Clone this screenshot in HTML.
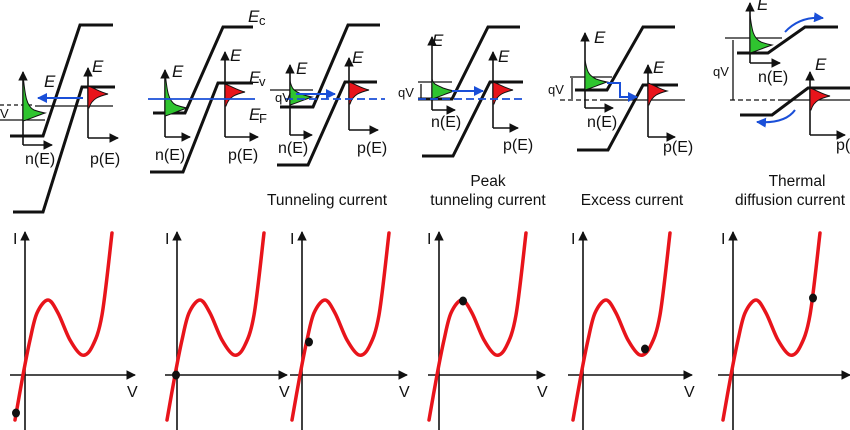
<!DOCTYPE html>
<html><head><meta charset="utf-8"><style>
body{margin:0;background:#fff}
svg{display:block}
text{font-family:"Liberation Sans",sans-serif;fill:#111}
.e{font-style:italic;font-size:17px}
.lab{font-size:16px}
.cap{font-size:15.5px}
.sm{font-size:13px}
.b{stroke:#111;stroke-width:3;fill:none}
.t{stroke:#111;stroke-width:1.3;fill:none}
.ax{stroke:#111;stroke-width:1.6;fill:none}
</style></head><body>
<svg id="fig" width="850" height="430" viewBox="0 0 850 430">
<defs>
<marker id="ah" viewBox="0 0 10 10" refX="9" refY="5" markerWidth="6" markerHeight="6" orient="auto"><path d="M0,0L10,5L0,10z" fill="#111"/></marker>
<marker id="bh" viewBox="0 0 10 10" refX="9" refY="5" markerWidth="5" markerHeight="5" orient="auto"><path d="M0,0L10,5L0,10z" fill="#1a4fd8"/></marker>
</defs>
<g id="bands"></g>
<g id="ivs"></g>
<g>
<text class="cap" x="327" y="205" text-anchor="middle">Tunneling current</text>
<text class="cap" x="488" y="186" text-anchor="middle">Peak</text>
<text class="cap" x="488" y="205" text-anchor="middle">tunneling current</text>
<text class="cap" x="632" y="205" text-anchor="middle">Excess current</text>
<text class="cap" x="797" y="186" text-anchor="middle">Thermal</text>
<text class="cap" x="790" y="205" text-anchor="middle">diffusion current</text>
</g>
</svg>
<script>
// I-V curve data (V offset from I axis in px units, I in px units upward)
const curveV = [-10, -2, 5, 12, 23, 33, 45, 57, 67, 77, 87];
const curveI = [-45, 0, 35, 62, 75, 62, 35, 20, 28, 60, 142];
const panelNames = ['reverse-bias','zero-bias','tunneling','peak','excess','thermal'];
const markerV = [-9, -1, 7, 24, 62, 80];
const markerI = [-38, 0, 33, 74, 26, 77];
const axisX = [25, 177, 302, 439, 583, 733];
const axisEnd = [135, 287, 407, 545, 692, 850];
const axisStart = [10, 165, 290, 428, 568, 718];
const showV = [true, true, true, true, true, false];

const NS='http://www.w3.org/2000/svg';
function mk(tag, attrs, parent){const e=document.createElementNS(NS,tag);for(const k in attrs)e.setAttribute(k,attrs[k]);parent.appendChild(e);return e;}
const OY=375;
function sx(p,v){return axisX[p]+v;}
function sy(i){return OY-i;}
function curvePath(p){
  const pts=curveV.map((v,i)=>[sx(p,v),sy(curveI[i])]);
  let d='M'+pts[0][0]+','+pts[0][1];
  for(let i=0;i<pts.length-1;i++){
    const p0=pts[Math.max(0,i-1)],p1=pts[i],p2=pts[i+1],p3=pts[Math.min(pts.length-1,i+2)];
    const c1=[p1[0]+(p2[0]-p0[0])/6,p1[1]+(p2[1]-p0[1])/6];
    const c2=[p2[0]-(p3[0]-p1[0])/6,p2[1]-(p3[1]-p1[1])/6];
    d+=` C${c1[0]},${c1[1]} ${c2[0]},${c2[1]} ${p2[0]},${p2[1]}`;
  }
  return d;
}
const ivs=document.getElementById('ivs');
for(let p=0;p<6;p++){
  const g=mk('g',{},ivs);
  
  
  const ya=mk('line',{x1:axisX[p],y1:430,x2:axisX[p],y2:232,class:'ax','marker-end':'url(#ah)'},g);
  
  
  const xa=mk('line',{x1:axisStart[p],y1:OY,x2:axisEnd[p],y2:OY,class:'ax','marker-end':'url(#ah)'},g);
  
  
  const it=mk('text',{x:axisX[p]-12,y:244,class:'lab'},g); it.textContent='I';
  
  
  if(showV[p]){const vt=mk('text',{x:axisEnd[p]-8,y:397,class:'lab'},g); vt.textContent='V';
  
  }
  const c=mk('path',{d:curvePath(p),stroke:'#e8141b','stroke-width':3.5,fill:'none','stroke-linecap':'round'},g);
  
  
  const m=mk('ellipse',{cx:sx(p,markerV[p]),cy:sy(markerI[p]),rx:4,ry:4.5,fill:'#111'},g);
  
  
}

// band diagrams (static schematic)
const bands=document.getElementById('bands');
function pl(pts,cls,g,extra){return mk('polyline',Object.assign({points:pts,class:cls},extra||{}),g);}
function axes(x,yt,yb,xr,g){mk('line',{x1:x,y1:yb,x2:x,y2:yt,class:'ax','marker-end':'url(#ah)'},g);mk('line',{x1:x,y1:yb,x2:xr,y2:yb,class:'ax','marker-end':'url(#ah)'},g);}
function distG(x,y,len,tail,g){
  mk('path',{d:`M${x},${y-tail} C${x+2},${y-tail*0.5} ${x+3},${y-7} ${x+len*0.5},${y-3} C${x+len*0.75},${y-1} ${x+len},${y} ${x+len},${y} C${x+len*0.6},${y+3} ${x+len*0.3},${y+6} ${x},${y+8} Z`,fill:'#2fc42f',stroke:'#111','stroke-width':1},g);
}
function distR(x,y,len,g){
  mk('path',{d:`M${x},${y-8} C${x+6},${y-6} ${x+len*0.6},${y-2} ${x+len},${y} C${x+len*0.6},${y+2} ${x+4},${y+4} ${x+1},${y+14} L${x},${y+14} Z`,fill:'#e8141b',stroke:'#111','stroke-width':1},g);
}
function txt(s,x,y,cls,g){const t=mk('text',{x:x,y:y,class:cls},g);t.textContent=s;return t;}
function blue(pts,g,dash){return pl(pts,'',g,{stroke:'#1a4fd8','stroke-width':1.8,fill:'none','stroke-dasharray':dash||'none'});}
function bluearrow(pts,g){return pl(pts,'',g,{stroke:'#1a4fd8','stroke-width':2,fill:'none','marker-end':'url(#bh)'});}
const G=[];
for(let i=0;i<6;i++){const g=mk('g',{},bands);G.push(g);}
// panel 1
let g=G[0];
pl('10,136 43,136 80,25 113,25','b',g);
pl('13,212 43,212 82,87 115,87','b',g);
mk('line',{x1:0,y1:120,x2:45,y2:120,class:'t'},g);
mk('line',{x1:0,y1:105,x2:35,y2:105,class:'t','stroke-dasharray':'4 3'},g);
mk('line',{x1:35,y1:106,x2:113,y2:106,class:'t'},g);
axes(23,72,145,52,g); axes(88,68,138,118,g);
distG(23,113,22,38,g); distR(88,94,20,g);
bluearrow('83,98 38,98',g);
txt('E',44,87,'e',g); txt('E',92,72,'e',g); txt('n(E)',25,164,'lab',g); txt('p(E)',90,164,'lab',g);
txt('V',0,118,'sm',g);
// panel 2
g=G[1];
pl('153,113 185,113 223,27 253,27','b',g);
pl('150,172 183,172 218,83 253,83','b',g);
axes(165,70,137,190,g); axes(225,52,137,258,g);
distG(165,108,22,36,g); distR(225,92,20,g);
blue('148,99 255,99',g);
txt('E',172,77,'e',g); txt('E',230,61,'e',g); txt('n(E)',155,160,'lab',g); txt('p(E)',228,160,'lab',g);
txt('E',248,22,'e',g); txt('c',259,25,'sm',g);
txt('E',249,83,'e',g); txt('v',259,86,'sm',g);
txt('E',249,120,'e',g); txt('F',259,123,'sm',g);
// panel 3
g=G[2];
pl('280,107 313,107 348,25 380,25','b',g);
pl('277,165 308,165 345,82 377,82','b',g);
mk('line',{x1:270,y1:90,x2:313,y2:90,class:'t'},g);
axes(290,65,135,312,g); axes(349,58,130,378,g);
distG(290,97,22,16,g); distR(349,90,20,g);
blue('285,99 385,99',g,'8 4');
bluearrow('296,94 335,94',g);
txt('E',296,74,'e',g); txt('E',352,63,'e',g); txt('n(E)',278,153,'lab',g); txt('p(E)',357,153,'lab',g);
txt('qV',275,102,'sm',g);
// panel 4
g=G[3];
pl('418,99 452,99 488,27 520,27','b',g);
pl('422,156 453,156 490,82 523,82','b',g);
mk('line',{x1:418,y1:82,x2:452,y2:82,class:'t'},g);
mk('line',{x1:421,y1:84,x2:421,y2:98,class:'t'},g);
axes(432,37,110,455,g); axes(493,52,128,518,g);
distG(432,91,22,12,g); distR(493,90,20,g);
blue('418,99 525,99',g,'8 4');
bluearrow('452,91 483,91',g);
txt('E',432,46,'e',g); txt('E',498,62,'e',g); txt('n(E)',431,127,'lab',g); txt('p(E)',503,150,'lab',g);
txt('qV',398,97,'sm',g);
// panel 5
g=G[4];
pl('575,90 607,90 643,27 675,27','b',g);
pl('577,150 608,150 643,85 678,85','b',g);
mk('line',{x1:570,y1:77,x2:612,y2:77,class:'t'},g);
mk('line',{x1:560,y1:100,x2:600,y2:100,class:'t','stroke-dasharray':'5 3'},g);
mk('line',{x1:600,y1:100,x2:685,y2:100,class:'t'},g);
mk('line',{x1:572,y1:78,x2:572,y2:99,class:'t'},g);
axes(585,33,108,613,g); axes(648,65,137,675,g);
distG(585,82,22,22,g); distR(648,91,19,g);
bluearrow('607,83 620,83 620,97 637,97',g);
txt('E',594,43,'e',g); txt('E',653,73,'e',g); txt('n(E)',587,127,'lab',g); txt('p(E)',663,152,'lab',g);
txt('qV',548,94,'sm',g);
// panel 6
g=G[5];
pl('737,53 768,53 805,27 838,27','b',g);
pl('740,115 772,115 808,88 850,88','b',g);
mk('line',{x1:725,y1:38,x2:782,y2:38,class:'t'},g);
mk('line',{x1:730,y1:100,x2:780,y2:100,class:'t','stroke-dasharray':'5 3'},g);
mk('line',{x1:780,y1:100,x2:850,y2:100,class:'t'},g);
mk('line',{x1:733,y1:40,x2:733,y2:100,class:'t'},g);
axes(750,3,63,780,g); axes(810,72,135,845,g);
distG(750,45,22,30,g); distR(810,96,20,g);
mk('path',{d:'M785,32 Q800,16 823,18',stroke:'#1a4fd8','stroke-width':2,fill:'none','marker-end':'url(#bh)'},g);
mk('path',{d:'M795,110 Q785,124 757,122',stroke:'#1a4fd8','stroke-width':2,fill:'none','marker-end':'url(#bh)'},g);
txt('E',757,10,'e',g); txt('E',815,70,'e',g); txt('n(E)',758,82,'lab',g); txt('p(',836,150,'lab',g);
txt('qV',713,76,'sm',g);
</script>
</body></html>
